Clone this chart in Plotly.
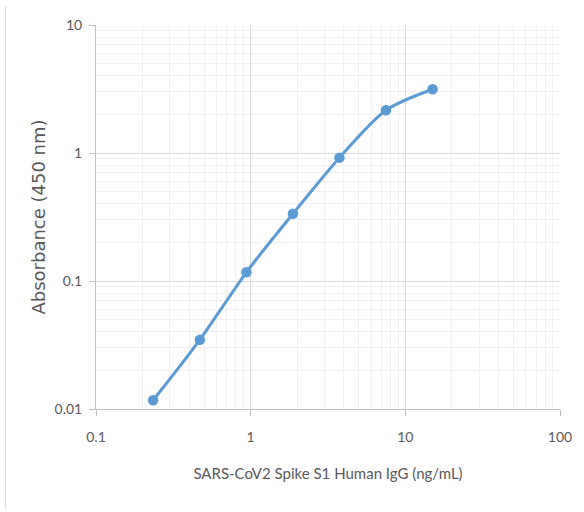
import plotly.graph_objects as go

# Data
concentration = [0.234, 0.469, 0.938, 1.875, 3.75, 7.5, 15]
absorbance = [0.0117, 0.0347, 0.117, 0.335, 0.92, 2.16, 3.15]

x_tick_vals = [0.1, 1, 10, 100]
x_tick_text = ["0.1", "1", "10", "100"]
y_tick_vals = [0.01, 0.1, 1, 10]
y_tick_text = ["0.01", "0.1", "1", "10"]

x_title = "SARS-CoV2 Spike S1 Human IgG (ng/mL)"
y_title = "Absorbance (450 nm)"

BLUE = "#5b9bd5"
TEXT = "#595959"
CAL = "Lato, Carlito, Calibri, sans-serif"

fig = go.Figure()
fig.add_trace(go.Scatter(
    x=concentration, y=absorbance,
    mode="lines+markers",
    line=dict(color=BLUE, width=3, shape="spline", smoothing=0.8),
    marker=dict(color=BLUE, size=10.5),
    showlegend=False,
    hoverinfo="x+y",
))

axis_common = dict(
    type="log",
    showline=True, linecolor="#bfbfbf", linewidth=1,
    showgrid=True, gridcolor="#d9d9d9", gridwidth=1,
    ticks="outside", ticklen=6, tickcolor="#bfbfbf",
    tickfont=dict(family=CAL, size=14, color=TEXT),
    zeroline=False,
    minor=dict(dtick="D1", showgrid=True, gridcolor="#f0f0f0", gridwidth=1, ticks=""),
)

fig.update_xaxes(
    **axis_common,
    range=[-1, 2],
    tickvals=x_tick_vals, ticktext=x_tick_text,
    ticklabelstandoff=9,
    title=dict(text=x_title, font=dict(family=CAL, size=15, color=TEXT), standoff=24),
)
fig.update_yaxes(
    **axis_common,
    range=[-2, 1],
    tickvals=y_tick_vals, ticktext=y_tick_text,
    ticklabelstandoff=4,
    title=dict(text=y_title, font=dict(family="DejaVu Sans", size=18, color=TEXT), standoff=4),
)

fig.add_shape(type="line", xref="paper", yref="paper",
              x0=-92 / 471, x1=-92 / 471, y0=-100 / 384, y1=1.05,
              line=dict(color="#d9d9d9", width=1))

fig.update_layout(
    width=584, height=512,
    margin=dict(l=96, r=17, t=25, b=103),
    paper_bgcolor="white", plot_bgcolor="white",
)

fig.write_html("out.html", config={"displayModeBar": False},
               post_script="document.body.style.margin='0';")
